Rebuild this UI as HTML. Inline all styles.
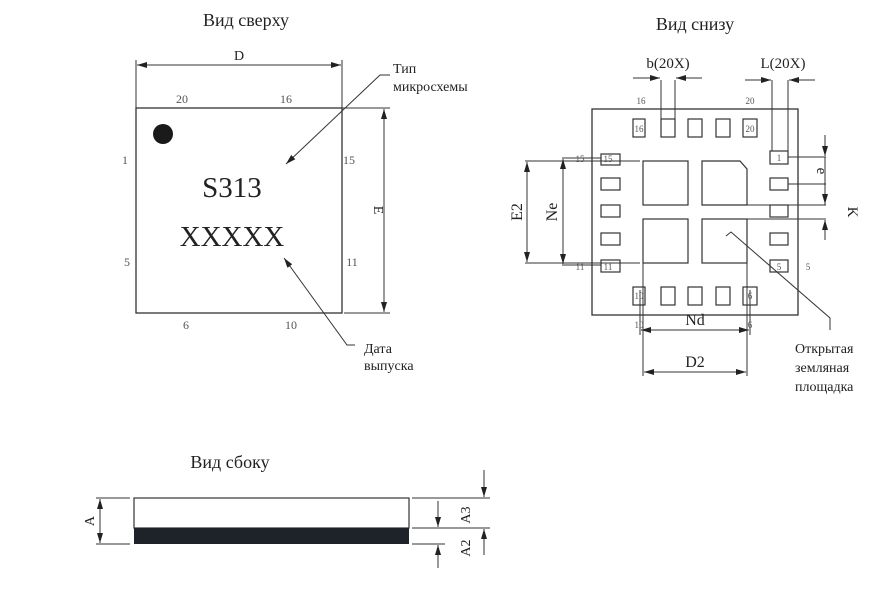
<!DOCTYPE html>
<html><head><meta charset="utf-8"><style>
html,body{margin:0;padding:0;background:#fff}
svg{display:block}
text{font-family:"Liberation Serif",serif;fill:#222}
.s{font-size:12px;fill:#555}
</style></head><body>
<svg width="896" height="593" viewBox="0 0 896 593" xmlns="http://www.w3.org/2000/svg">
<defs>
<marker id="a" viewBox="0 0 10 6" refX="10" refY="3" markerWidth="10" markerHeight="6" orient="auto-start-reverse" markerUnits="userSpaceOnUse"><path d="M0,0L10,3L0,6z" fill="#222"/></marker>
</defs>
<g stroke="#333" stroke-width="1" fill="none">
<!-- TOP VIEW -->
<rect x="136" y="108" width="206" height="205" stroke-width="1.3"/>
<line x1="136" y1="60" x2="136" y2="108"/><line x1="342" y1="60" x2="342" y2="108"/>
<line x1="137" y1="65" x2="341" y2="65" marker-start="url(#a)" marker-end="url(#a)"/>
<line x1="342" y1="108" x2="390" y2="108"/><line x1="344" y1="313" x2="390" y2="313"/>
<line x1="384" y1="109" x2="384" y2="312" marker-start="url(#a)" marker-end="url(#a)"/>
<polyline points="390,75 380,75 286,164" marker-end="url(#a)"/>
<polyline points="355,345 347,345 284,258" marker-end="url(#a)"/>
<!-- BOTTOM VIEW -->
<rect x="592" y="109" width="206" height="206" stroke-width="1.3"/>
<g stroke-width="1.2">
<rect x="633" y="119" width="12" height="18"/><rect x="661" y="119" width="14" height="18"/><rect x="688" y="119" width="14" height="18"/><rect x="716" y="119" width="14" height="18"/><rect x="743" y="119" width="14" height="18"/>
<rect x="633" y="287" width="12" height="18"/><rect x="661" y="287" width="14" height="18"/><rect x="688" y="287" width="14" height="18"/><rect x="716" y="287" width="14" height="18"/><rect x="743" y="287" width="14" height="18"/>
<rect x="601" y="154" width="19" height="11"/><rect x="601" y="178" width="19" height="12"/><rect x="601" y="205" width="19" height="12"/><rect x="601" y="233" width="19" height="12"/><rect x="601" y="260" width="19" height="12"/>
<rect x="770" y="151" width="18" height="13"/><rect x="770" y="178" width="18" height="12"/><rect x="770" y="205" width="18" height="12"/><rect x="770" y="233" width="18" height="12"/><rect x="770" y="260" width="18" height="12"/>
<rect x="643" y="161" width="45" height="44"/><path d="M702,161H740L747,169V205H702Z"/>
<rect x="643" y="219" width="45" height="44"/><rect x="702" y="219" width="45" height="44"/>
</g>
<!-- b, L -->
<line x1="661" y1="80" x2="661" y2="119"/><line x1="675" y1="80" x2="675" y2="119"/>
<line x1="633" y1="78" x2="660" y2="78" marker-end="url(#a)"/><line x1="702" y1="78" x2="676" y2="78" marker-end="url(#a)"/>
<line x1="772" y1="80" x2="772" y2="151"/><line x1="788" y1="80" x2="788" y2="151"/>
<line x1="745" y1="80" x2="771" y2="80" marker-end="url(#a)"/><line x1="815" y1="80" x2="789" y2="80" marker-end="url(#a)"/>
<!-- E2 Ne -->
<line x1="525" y1="161" x2="640" y2="161"/><line x1="525" y1="263" x2="640" y2="263"/>
<line x1="562" y1="158" x2="601" y2="158"/><line x1="562" y1="265" x2="601" y2="265"/>
<line x1="527" y1="162" x2="527" y2="262" marker-start="url(#a)" marker-end="url(#a)"/>
<line x1="563" y1="159" x2="563" y2="264" marker-start="url(#a)" marker-end="url(#a)"/>
<!-- e K -->
<line x1="788" y1="157" x2="826" y2="157"/><line x1="788" y1="184" x2="826" y2="184"/>
<line x1="747" y1="205" x2="826" y2="205"/><line x1="747" y1="219" x2="826" y2="219"/>
<line x1="825" y1="135" x2="825" y2="156" marker-end="url(#a)"/><line x1="825" y1="157" x2="825" y2="205"/>
<line x1="825" y1="220" x2="825" y2="240"/><line x1="825" y1="240" x2="825" y2="220" marker-end="url(#a)"/>
<line x1="825" y1="190" x2="825" y2="204" marker-end="url(#a)"/>
<!-- Nd D2 -->
<line x1="640" y1="290" x2="640" y2="335"/><line x1="750" y1="290" x2="750" y2="335"/>
<line x1="643" y1="263" x2="643" y2="376"/><line x1="747" y1="263" x2="747" y2="376"/>
<line x1="641" y1="330" x2="749" y2="330" marker-start="url(#a)" marker-end="url(#a)"/>
<line x1="644" y1="372" x2="746" y2="372" marker-start="url(#a)" marker-end="url(#a)"/>
<polyline points="726,236 731,232 830,318 830,330"/>
<!-- SIDE VIEW -->
<rect x="134" y="498" width="275" height="30" stroke-width="1.2"/>
<line x1="96" y1="498" x2="130" y2="498"/><line x1="96" y1="544" x2="130" y2="544"/>
<line x1="100" y1="499" x2="100" y2="543" marker-start="url(#a)" marker-end="url(#a)"/>
<line x1="412" y1="498" x2="490" y2="498"/><line x1="412" y1="528" x2="490" y2="528"/><line x1="412" y1="544" x2="445" y2="544"/>
<line x1="438" y1="501" x2="438" y2="527" marker-end="url(#a)"/><line x1="438" y1="568" x2="438" y2="545" marker-end="url(#a)"/>
<line x1="484" y1="470" x2="484" y2="497" marker-end="url(#a)"/><line x1="484" y1="555" x2="484" y2="529" marker-end="url(#a)"/>
</g>
<rect x="134" y="528" width="275" height="16" fill="#1e2329"/>
<circle cx="163" cy="134" r="10" fill="#1a1a1a"/>
<!-- texts -->
<text x="246" y="26" font-size="18" text-anchor="middle">Вид сверху</text>
<text x="695" y="30" font-size="18" text-anchor="middle">Вид снизу</text>
<text x="230" y="468" font-size="18" text-anchor="middle">Вид сбоку</text>
<text x="239" y="60" font-size="14" text-anchor="middle">D</text>
<text class="s" x="182" y="103" text-anchor="middle">20</text><text class="s" x="286" y="103" text-anchor="middle">16</text>
<text class="s" x="125" y="164" text-anchor="middle">1</text><text class="s" x="349" y="164" text-anchor="middle">15</text>
<text class="s" x="127" y="266" text-anchor="middle">5</text><text class="s" x="352" y="266" text-anchor="middle">11</text>
<text class="s" x="186" y="329" text-anchor="middle">6</text><text class="s" x="291" y="329" text-anchor="middle">10</text>
<text x="232" y="197" font-size="29" text-anchor="middle">S313</text>
<text x="232" y="246" font-size="29" text-anchor="middle">XXXXX</text>
<text x="374" y="210" font-size="14" text-anchor="middle" transform="rotate(90 374 210)">E</text>
<text x="393" y="73" font-size="14">Тип</text><text x="393" y="91" font-size="14">микросхемы</text>
<text x="364" y="353" font-size="14">Дата</text><text x="364" y="370" font-size="14">выпуска</text>
<text x="668" y="68" font-size="15" text-anchor="middle">b(20X)</text>
<text x="783" y="68" font-size="15" text-anchor="middle">L(20X)</text>
<g style="font-size:9px"><text class="s" style="font-size:9px" x="641" y="104" text-anchor="middle">16</text><text class="s" style="font-size:9px" x="750" y="104" text-anchor="middle">20</text>
<text class="s" style="font-size:9px" x="639" y="132" text-anchor="middle">16</text><text class="s" style="font-size:9px" x="750" y="132" text-anchor="middle">20</text>
<text class="s" style="font-size:9px" x="779" y="161" text-anchor="middle">1</text><text class="s" style="font-size:9px" x="779" y="270" text-anchor="middle">5</text><text class="s" style="font-size:9px" x="808" y="270" text-anchor="middle">5</text>
<text class="s" style="font-size:9px" x="608" y="162" text-anchor="middle">15</text><text class="s" style="font-size:9px" x="580" y="162" text-anchor="middle">15</text>
<text class="s" style="font-size:9px" x="608" y="270" text-anchor="middle">11</text><text class="s" style="font-size:9px" x="580" y="270" text-anchor="middle">11</text>
<text class="s" style="font-size:9px" x="639" y="299" text-anchor="middle">10</text><text class="s" style="font-size:9px" x="750" y="299" text-anchor="middle">6</text>
<text class="s" style="font-size:9px" x="639" y="328" text-anchor="middle">10</text><text class="s" style="font-size:9px" x="750" y="328" text-anchor="middle">6</text></g>
<text x="522" y="212" font-size="16" text-anchor="middle" transform="rotate(-90 522 212)">E2</text>
<text x="557" y="212" font-size="16" text-anchor="middle" transform="rotate(-90 557 212)">Ne</text>
<text x="817" y="171" font-size="15" text-anchor="middle" transform="rotate(90 817 171)">e</text>
<text x="848" y="212" font-size="15" text-anchor="middle" transform="rotate(90 848 212)">K</text>
<text x="695" y="325" font-size="16" text-anchor="middle">Nd</text>
<text x="695" y="367" font-size="16" text-anchor="middle">D2</text>
<text x="795" y="353" font-size="14">Открытая</text><text x="795" y="372" font-size="14">земляная</text><text x="795" y="391" font-size="14">площадка</text>
<text x="94" y="521" font-size="14" text-anchor="middle" transform="rotate(-90 94 521)">A</text>
<text x="470" y="515" font-size="14" text-anchor="middle" transform="rotate(-90 470 515)">A3</text>
<text x="470" y="548" font-size="14" text-anchor="middle" transform="rotate(-90 470 548)">A2</text>
</svg>
</body></html>
